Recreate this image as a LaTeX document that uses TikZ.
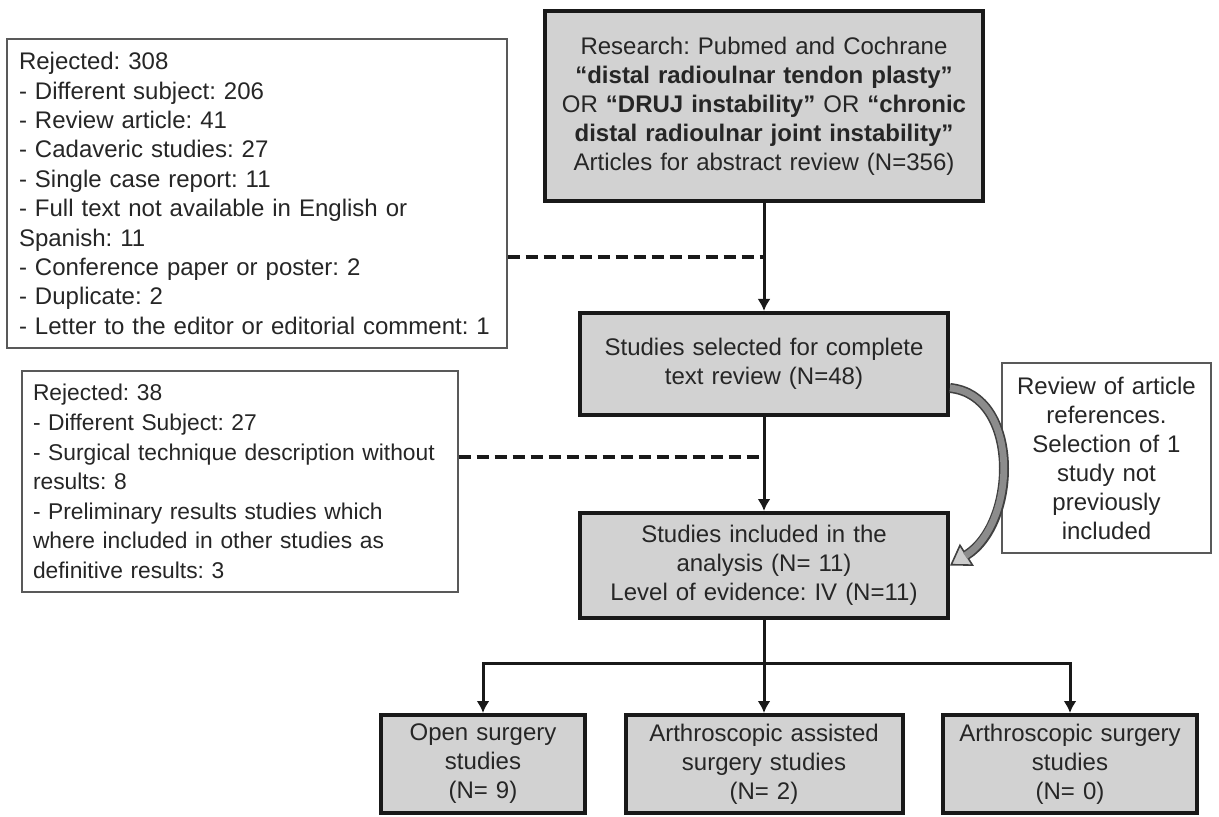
\documentclass[tikz,border=0pt]{standalone}
\usepackage{fontspec}
\setmainfont{Liberation Sans}
\usetikzlibrary{arrows.meta}
\frenchspacing

\begin{document}
\begin{tikzpicture}[x = 0.5pt, y = -0.5pt, > = {Latex[length = 6pt, width = 6.5pt]},
	every node/.style = {font = \fontsize{12}{14.5}\selectfont, text = black!85},
	stage/.style = {draw = black!90, line width = 2pt, fill = gray!35, align = center, inner sep = 2pt},
	excluded/.style = {draw = black!65, line width = 0.7pt, fill = white, align = left, inner sep = 0pt},
	flow/.style = {line width = 1.5pt, black!90},
	cut/.style = {line width = 2pt, black!90, dash pattern = on 6pt off 3pt}]

	\useasboundingbox (0, 0) rectangle (1219, 817);

	% Main stages

	\node [stage, minimum width = 219pt, minimum height = 95pt, text width = 212pt] (search) at (764, 106)
		{Research: Pubmed and Cochrane\\ \textbf{“distal radioulnar tendon plasty”}\\ OR \textbf{“DRUJ instability”} OR \textbf{“chronic}\\ \textbf{distal radioulnar joint instability”}\\ Articles for abstract review (N=356)};
	\node [stage, minimum width = 184pt, minimum height = 51pt, text width = 176pt] (sel) at (764, 364)
		{Studies selected for complete\\ text review (N=48)};
	\node [stage, minimum width = 184pt, minimum height = 52.5pt, text width = 176pt] (incl) at (764, 565.5)
		{Studies included in the\\ analysis (N= 11)\\ Level of evidence: IV (N=11)};

	% Groups

	\node [stage, minimum width = 102pt, minimum height = 49pt, text width = 96pt] (open) at (483, 764)
		{Open surgery\\ studies\\ (N= 9)};
	\node [stage, minimum width = 138.5pt, minimum height = 49pt, text width = 132pt] (assist) at (764, 764)
		{Arthroscopic assisted\\ surgery studies\\ (N= 2)};
	\node [stage, minimum width = 127pt, minimum height = 49pt, text width = 121pt] (arth) at (1070, 764)
		{Arthroscopic surgery\\ studies\\ (N= 0)};

	% Side boxes

	\node [excluded, minimum width = 250pt, minimum height = 154.5pt, text width = 238pt, font = \fontsize{12}{14.7}\selectfont] (rej1) at (257, 193.5)
		{Rejected: 308\\ - Different subject: 206\\ - Review article: 41\\ - Cadaveric studies: 27\\ - Single case report: 11\\ - Full text not available in English or\\ Spanish: 11\\ - Conference paper or poster: 2\\ - Duplicate: 2\\ - Letter to the editor or editorial comment: 1};
	\node [excluded, minimum width = 218pt, minimum height = 110.5pt, text width = 207pt, font = \fontsize{11.4}{14.8}\selectfont] (rej2) at (240, 481.5)
		{Rejected: 38\\ - Different Subject: 27\\ - Surgical technique description without\\ results: 8\\ - Preliminary results studies which\\ where included in other studies as\\ definitive results: 3};
	\node [excluded, align = center, minimum width = 104.5pt, minimum height = 95pt, text width = 98pt] (review) at (1106.5, 458)
		{Review of article\\ references.\\ Selection of 1\\ study not\\ previously\\ included};

	% Connectors

	\coordinate (j1) at (764, 257);
	\coordinate (j2) at (764, 457);
	\coordinate (fork) at (764, 663);

	\draw [flow, ->] (search) -- (sel);
	\draw [flow, ->] (sel) -- (incl);
	\draw [cut] (rej1.east |- j1) -- (j1);
	\draw [cut] (rej2.east |- j2) -- (j2);

	\draw [flow] (incl) -- (fork);
	\draw [flow, ->] (fork) -| (open.north);
	\draw [flow, ->] (fork) -- (assist.north);
	\draw [flow, ->] (fork) -| (arth.north);

	% Added study

	\draw [line width = 5pt, black!75, -{Triangle[length = 10pt, width = 13pt, fill = black!20, line width = 0.8pt]}]
		([yshift = -12pt] sel.east) .. controls +(70, 7) and +(68, -43) .. (incl.east);
	\draw [line width = 3.4pt, black!45, shorten > = 9pt]
		([yshift = -12pt] sel.east) .. controls +(70, 7) and +(68, -43) .. (incl.east);

\end{tikzpicture}
\end{document}
